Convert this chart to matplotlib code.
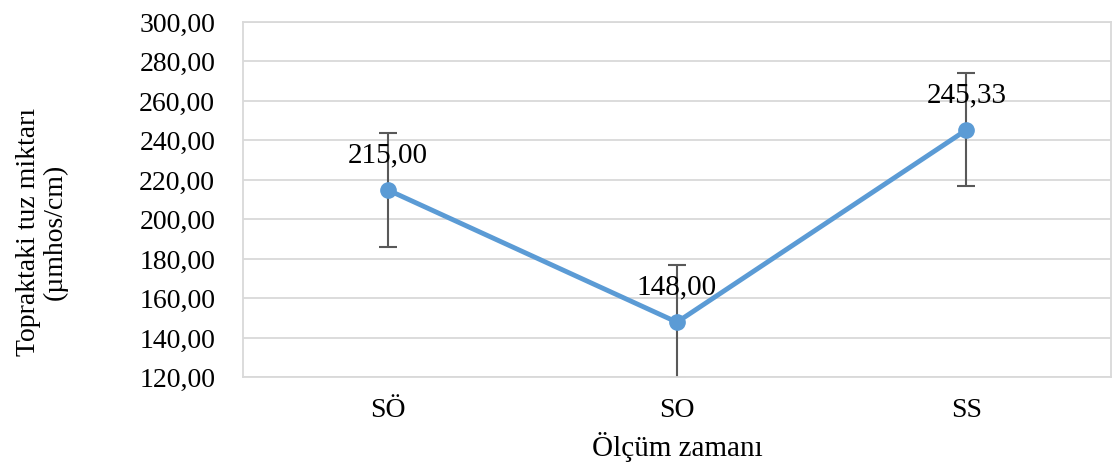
import matplotlib.pyplot as plt
from matplotlib.ticker import FuncFormatter, MultipleLocator

categories = ["SÖ", "SO", "SS"]
values = [215.00, 148.00, 245.33]
errors = [28.7, 29.0, 28.6]
value_labels = ["215,00", "148,00", "245,33"]

plt.rcParams['font.family'] = ['Liberation Serif', 'DejaVu Serif']

fig = plt.figure(figsize=(11.13, 4.68), dpi=100)
ax = fig.add_axes([0.2183, 0.1934, 0.7799, 0.7596])

x = list(range(len(categories)))
ax.errorbar(x, values, yerr=errors, fmt="none", ecolor="#595959",
            elinewidth=1.5, capsize=6.5, capthick=1.5, zorder=2)
ax.plot(x, values, color="#5B9BD5", linewidth=3.5, marker="o",
        markersize=11, zorder=3)

for xi, v, lab in zip(x, values, value_labels):
    ax.annotate(lab, (xi, v), xytext=(0, 25), textcoords="offset points",
                ha="center", va="center", fontsize=21, color="black", zorder=4)

ax.set_xlim(-0.5, 2.5)
ax.set_ylim(120, 300)
ax.yaxis.set_major_locator(MultipleLocator(20))
ax.yaxis.set_major_formatter(FuncFormatter(lambda v, p: f"{v:.2f}".replace(".", ",")))
ax.set_xticks(x)
ax.set_xticklabels(categories)
ax.tick_params(axis="both", length=0, labelsize=20, colors="black")
ax.tick_params(axis="x", pad=15)
ax.tick_params(axis="y", pad=20)

ax.grid(axis="y", color="#D9D9D9", linewidth=1.3)
ax.set_axisbelow(True)
for s in ax.spines.values():
    s.set_color("#D9D9D9")
    s.set_linewidth(1.3)

# axis titles placed like the original (y title sits a bit below centre)
fig.text(677 / 1113, 1 - 447 / 468, "Ölçüm zamanı", fontsize=21,
         ha="center", va="center")
fig.text(42 / 1113, 1 - 232 / 468, "Topraktaki tuz miktarı\n(µmhos/cm)",
         fontsize=20, rotation=90, ha="center", va="center",
         linespacing=1.05, multialignment="center")

fig.savefig("out.png", dpi=100)
